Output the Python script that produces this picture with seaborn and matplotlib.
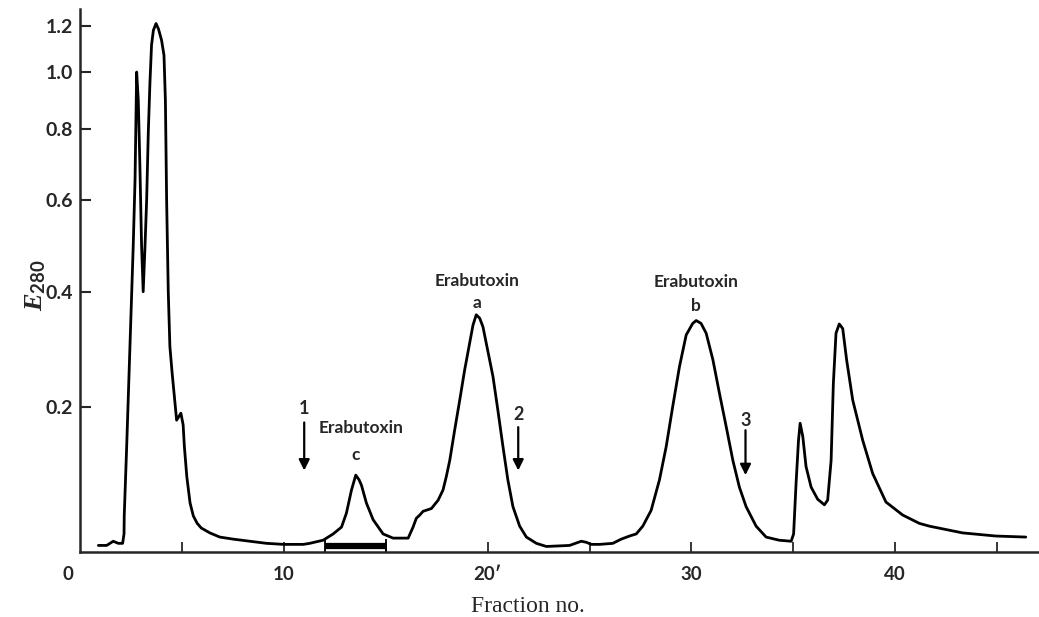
import numpy as np
import pandas as pd
import matplotlib
matplotlib.use("Agg")
import matplotlib.pyplot as plt
import seaborn as sns

# elution profile (fraction no., E280)
fraction = [0.9, 1.31, 1.63, 1.88, 2.09, 2.16, 2.17, 2.29, 2.45, 2.61, 2.70, 2.78, 2.86, 2.94,
            3.02, 3.10, 3.19, 3.27, 3.35, 3.43, 3.51, 3.60, 3.73, 3.85, 4.00, 4.12, 4.19,
            4.25, 4.33, 4.41, 4.52, 4.74, 4.95, 5.06, 5.12, 5.24, 5.40, 5.56, 5.75, 5.95, 6.37,
            6.86, 7.52, 8.33, 9.15, 10.0, 10.95, 11.27, 11.93, 12.42, 12.83, 13.07, 13.32,
            13.53, 13.69, 13.81, 14.05, 14.38, 14.87, 15.36, 16.1, 16.34, 16.5, 16.67, 16.83,
            17.24, 17.57, 17.81, 17.97, 18.14, 18.38, 18.63, 18.87, 19.12, 19.28, 19.44,
            19.61, 19.77, 19.93, 20.1, 20.26, 20.5, 20.75, 20.99, 21.24, 21.57, 21.9, 22.39,
            22.88, 24.02, 24.31, 24.59, 24.84, 25.08, 25.49, 26.14, 26.55, 26.96, 27.29,
            27.61, 28.02, 28.43, 28.76, 29.08, 29.41, 29.74, 30.06, 30.23, 30.47, 30.72,
            31.05, 31.37, 31.7, 32.03, 32.35, 32.68, 33.17, 33.66, 34.3, 34.89, 35.01, 35.13,
            35.25, 35.33, 35.46, 35.62, 35.87, 36.19, 36.52, 36.68, 36.85, 36.96, 37.09,
            37.25, 37.42, 37.61, 37.91, 38.4, 38.89, 39.54, 40.36, 41.18, 41.67, 43.3, 44.93,
            46.4]
e280 = [0.036, 0.036, 0.040, 0.038, 0.038, 0.047, 0.066, 0.149, 0.305, 0.498, 0.656, 1.0, 0.90, 0.693,
        0.502, 0.40, 0.50, 0.60, 0.789, 0.96, 1.117, 1.18, 1.21, 1.186, 1.138, 1.073, 0.90,
        0.60, 0.40, 0.305, 0.259, 0.183, 0.192, 0.177, 0.149, 0.110, 0.080, 0.066, 0.058, 0.053, 0.048,
        0.044, 0.042, 0.040, 0.038, 0.037, 0.037, 0.038, 0.041, 0.047, 0.054, 0.069, 0.094,
        0.112, 0.106, 0.099, 0.080, 0.062, 0.047, 0.043, 0.043, 0.054, 0.0635, 0.067, 0.071,
        0.074, 0.083, 0.094, 0.110, 0.131, 0.170, 0.212, 0.264, 0.311, 0.342, 0.360,
        0.354, 0.339, 0.311, 0.282, 0.253, 0.196, 0.149, 0.106, 0.076, 0.055, 0.044, 0.038,
        0.035, 0.036, 0.038, 0.040, 0.039, 0.037, 0.037, 0.038, 0.042, 0.045, 0.047,
        0.055, 0.072, 0.106, 0.149, 0.201, 0.27, 0.325, 0.345, 0.350, 0.345, 0.328,
        0.282, 0.224, 0.175, 0.131, 0.097, 0.076, 0.055, 0.044, 0.041, 0.040, 0.047, 0.101,
        0.157, 0.179, 0.162, 0.123, 0.097, 0.084, 0.078, 0.083, 0.131, 0.241, 0.328,
        0.344, 0.336, 0.282, 0.212, 0.157, 0.114, 0.081, 0.067, 0.058, 0.055, 0.048, 0.045,
        0.044]

ytick_vals = [0.2, 0.4, 0.6, 0.8, 1.0, 1.2]
ytick_labels = ["0.2", "0.4", "0.6", "0.8", "1.0", "1.2"]
xtick_vals = [5, 10, 15, 20, 25, 30, 35, 40, 45]
xtick_labels = ["", "10", "", "20\u2032", "", "30", "", "40", ""]

peak_names = ["a", "b", "c"]
peak_frac = [19.5, 30.2, 13.8]
peak_name_y = [0.423, 0.421, 0.173]
peak_letter_x = [19.5, 30.2, 13.5]
peak_letter_y = [0.38, 0.375, 0.138]

arrow_labels = ["1", "2", "3"]
arrow_frac = [11.0, 21.5, 32.65]
arrow_text_y = [0.198, 0.19, 0.183]
arrow_tail_y = [0.18, 0.174, 0.17]
arrow_tip_y = [0.118, 0.118, 0.112]

pooled = [12, 15]

# the printed E280 axis is non-linear: map values to height via the tick spacing
knot_e = np.array([0.0, 0.03, 0.05, 0.1, 0.2, 0.4, 0.6, 0.8, 1.0, 1.2, 1.3, 1.6])
knot_h = 551.7 - np.array([584.3, 551.7, 530.8, 484.4, 407, 291.7, 200, 129, 72, 25.7, 3.4, -60])


def fwd(v):
    return np.interp(v, knot_e, knot_h)


def inv(h):
    return np.interp(h, knot_h, knot_e)


sns.set_style("ticks")
plt.rcParams["font.family"] = ["Lato", "DejaVu Sans"]
plt.rcParams["mathtext.fontset"] = "custom"
plt.rcParams["mathtext.it"] = "Liberation Serif:italic:bold"
plt.rcParams["mathtext.bf"] = "Lato:bold"

fig = plt.figure(figsize=(10.39, 6.17), dpi=100)
ax = fig.add_axes([80 / 1039, 1 - 551.7 / 617, 958 / 1039, 542.7 / 617])

df = pd.DataFrame({"fraction": fraction, "E280": e280})
sns.lineplot(data=df, x="fraction", y="E280", ax=ax, color="black", lw=2.0,
             estimator=None, solid_joinstyle="round")

ax.set_yscale("function", functions=(fwd, inv))
ax.set_xlim(0, 47)
ax.set_ylim(0.03, 1.275)

ax.set_yticks(ytick_vals)
ax.set_yticklabels(ytick_labels, fontsize=14, fontweight="bold")
ax.yaxis.set_minor_locator(matplotlib.ticker.NullLocator())
ax.set_xticks(xtick_vals)
ax.set_xticklabels(xtick_labels, fontsize=13.5, fontweight="bold")
ax.tick_params(axis="y", direction="in", length=8, width=1.5, pad=5)
ax.tick_params(axis="x", direction="in", length=7, width=1.3, pad=10)
sns.despine(ax=ax)
for s in ["left", "bottom"]:
    ax.spines[s].set_linewidth(1.8)

ax.annotate("0", xy=(0, 0), xycoords="axes fraction", xytext=(-12, -23),
            textcoords="offset pixels", ha="center", va="center",
            fontsize=13.5, fontweight="bold")

ax.set_xlabel("Fraction no.", family="Liberation Serif", fontsize=17)
ax.xaxis.set_label_coords((528 - 80) / 958, -(606 - 551.7) / 542.7)
ax.xaxis.label.set_va("center")
ax.set_ylabel(r"$\mathit{E}_{\mathbf{280}}$", fontsize=19)
ax.yaxis.set_label_coords(-45 / 958, (551.7 - 285) / 542.7)
ax.yaxis.label.set_va("center")

# pooled fractions bar
ax.plot(pooled, [0.0355, 0.0355], color="black", lw=4.5, solid_capstyle="butt")
ax.vlines(pooled, 0.03, 0.042, color="black", lw=1.3)

for name, fx, fy, lx, ly in zip(peak_names, peak_frac, peak_name_y, peak_letter_x, peak_letter_y):
    ax.text(fx, fy, "Erabutoxin", ha="center", va="center", fontsize=12.5, fontweight="bold")
    ax.text(lx, ly, name, ha="center", va="center", fontsize=12.5, fontweight="bold")

for lab, fx, ty, t0, t1 in zip(arrow_labels, arrow_frac, arrow_text_y, arrow_tail_y, arrow_tip_y):
    ax.text(fx, ty, lab, ha="center", va="center", fontsize=13, fontweight="bold")
    ax.annotate("", xy=(fx, t1), xytext=(fx, t0),
                arrowprops=dict(arrowstyle="-|>", color="black", lw=1.6, mutation_scale=16,
                                shrinkA=0, shrinkB=0))

fig.savefig("out.png", dpi=100)
